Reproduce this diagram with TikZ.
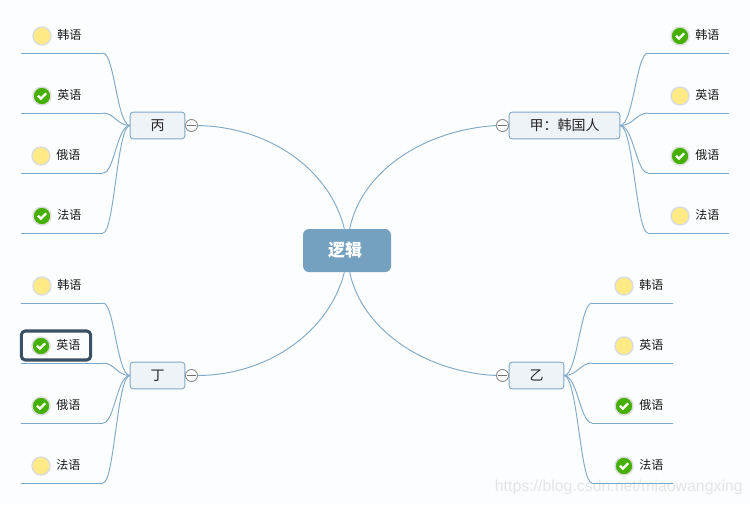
\documentclass[tikz,border=0pt]{standalone}
\usepackage{fontspec}
\usetikzlibrary{calc}
\setmainfont{Liberation Sans}
\newfontfamily\cjk{Noto Sans CJK SC}
\definecolor{bgc}{HTML}{FCFDFE}
\definecolor{linec}{HTML}{7FA9C8}
\definecolor{rootc}{HTML}{75A1C0}
\definecolor{boxc}{HTML}{EEF3F8}
\definecolor{selc}{HTML}{3A5064}
\definecolor{greenc}{HTML}{45B000}
\definecolor{yelc}{HTML}{FFEA85}
\definecolor{halo}{HTML}{DCDCDC}
\definecolor{wm}{HTML}{E4E5E6}
\tikzset{
  x=0.75pt,y=-0.75pt,
  link/.style={draw=linec,line width=0.7pt},
  rootbox/.style={draw=none,fill=rootc,rounded corners=4.5pt,minimum width=66pt,minimum height=32.25pt,inner sep=0pt,text=white,font=\cjk\bfseries\fontsize{12.75}{14}\selectfont},
  topicbox/.style={draw=linec,fill=boxc,line width=0.7pt,rounded corners=2.2pt,minimum height=20pt,inner sep=0pt,font=\cjk\fontsize{10.5}{12}\selectfont,text=black!85},
  collapse/.style={circle,draw=black!45,fill=white,line width=0.7pt,minimum size=9pt,inner sep=0pt,path picture={\draw[black!55,line width=0.5pt] ([xshift=-3.2pt]path picture bounding box.center) -- ([xshift=3.2pt]path picture bounding box.center);}},
  leaftext/.style={inner sep=0pt,font=\cjk\fontsize{9}{11}\selectfont,text=black!90},
  selbox/.style={draw=selc,line width=2.3pt,rounded corners=3pt,minimum width=52pt,minimum height=21.75pt,inner sep=0pt},
  yesmark/.style={circle,fill=greenc,draw=halo,line width=1.1pt,minimum size=13.5pt,inner sep=0pt,path picture={\draw[white,line width=1.7pt] ([shift={(-3pt,0.2pt)}]path picture bounding box.center) -- ([shift={(-0.9pt,-2pt)}]path picture bounding box.center) -- ([shift={(3.1pt,2pt)}]path picture bounding box.center);}},
  nomark/.style={circle,fill=yelc,draw=halo,line width=1.1pt,minimum size=13.5pt,inner sep=0pt},
}
% #1 name, #2 parent anchor, #3 line outer x, #4 line inner x, #5 line y, #6 icon x, #7 text x, #8 mark style, #9 label
\newcommand{\leafitem}[9]{%
  \coordinate (#1o) at (#3,#5);
  \coordinate (#1i) at (#4,#5);
  \path[link] (#1o) -- (#1i);
  \path[link] (#1i) .. controls ($(#1i)!0.42!(#1i -| #2)$) and ($(#2)!0.48!(#2 -| #1i)$) .. (#2);
  \node[#8] (#1m) at (#6,#5-17) {};
  \node[leaftext,anchor=west] (#1t) at (#7,#5-18.5) {#9};
}
\begin{document}
\begin{tikzpicture}
\useasboundingbox (0,0) rectangle (750,504);
\fill[bgc] (0,0) rectangle (750,504);
\node[wm,inner sep=0pt,anchor=east,font=\fontsize{11.9}{14}\selectfont] (wmark) at (743,487) {https://blog.csdn.net/miaowangxing};

\node[rootbox] (root) at (347,250.5) {逻辑\hspace*{3pt}};
\node[topicbox,minimum width=41pt] (bing) at (157.5,125.5) {丙};
\node[topicbox,minimum width=83pt] (jia) at (564.5,125.5) {甲：韩国人};
\node[topicbox,minimum width=41pt] (yi) at (536.5,375.5) {乙};
\node[topicbox,minimum width=41pt] (ding) at (157.5,375.5) {丁};
\node[collapse] (cb) at (191.5,125.5) {};
\node[collapse] (cj) at (502.5,125.5) {};
\node[collapse] (cy) at (502.5,375.5) {};
\node[collapse] (cd) at (191.5,375.5) {};

\path[link] ([xshift=-2pt]root.north) .. controls (330,170) and (270,127) .. (cb.east);
\path[link] ([xshift=2pt]root.north) .. controls (362,170) and (425,130) .. (cj.west);
\path[link] ([xshift=2pt]root.south) .. controls (362,330) and (425,372) .. (cy.west);
\path[link] ([xshift=-2pt]root.south) .. controls (330,330) and (270,375) .. (cd.east);

\coordinate (bl) at (130,125.5);
\coordinate (jr) at (620,125.5);
\coordinate (yr) at (564,375.5);
\coordinate (dl) at (130,375.5);

\node[selbox] (sel) at (56,345.5) {};

\leafitem{b1}{bl}{21}{103}{53}{42}{57}{nomark}{韩语}
\leafitem{b2}{bl}{21}{103}{113}{42}{57}{yesmark}{英语}
\leafitem{b3}{bl}{21}{103}{173}{41}{56}{nomark}{俄语}
\leafitem{b4}{bl}{21}{103}{233}{42}{57}{yesmark}{法语}

\leafitem{j1}{jr}{729}{648}{53}{680}{695}{yesmark}{韩语}
\leafitem{j2}{jr}{729}{648}{113}{680}{695}{nomark}{英语}
\leafitem{j3}{jr}{729}{648}{173}{680}{695}{yesmark}{俄语}
\leafitem{j4}{jr}{729}{648}{233}{680}{695}{nomark}{法语}

\leafitem{y1}{yr}{673}{592}{303}{624}{639}{nomark}{韩语}
\leafitem{y2}{yr}{673}{592}{363}{624}{639}{nomark}{英语}
\leafitem{y3}{yr}{673}{592}{423}{624}{639}{yesmark}{俄语}
\leafitem{y4}{yr}{673}{592}{483}{624}{639}{yesmark}{法语}

\leafitem{d1}{dl}{21}{103}{303}{42}{57}{nomark}{韩语}
\leafitem{d2}{dl}{21}{103}{363}{41}{56}{yesmark}{英语}
\leafitem{d3}{dl}{21}{103}{423}{41}{56}{yesmark}{俄语}
\leafitem{d4}{dl}{21}{103}{483}{41}{56}{nomark}{法语}
\end{tikzpicture}
\end{document}
